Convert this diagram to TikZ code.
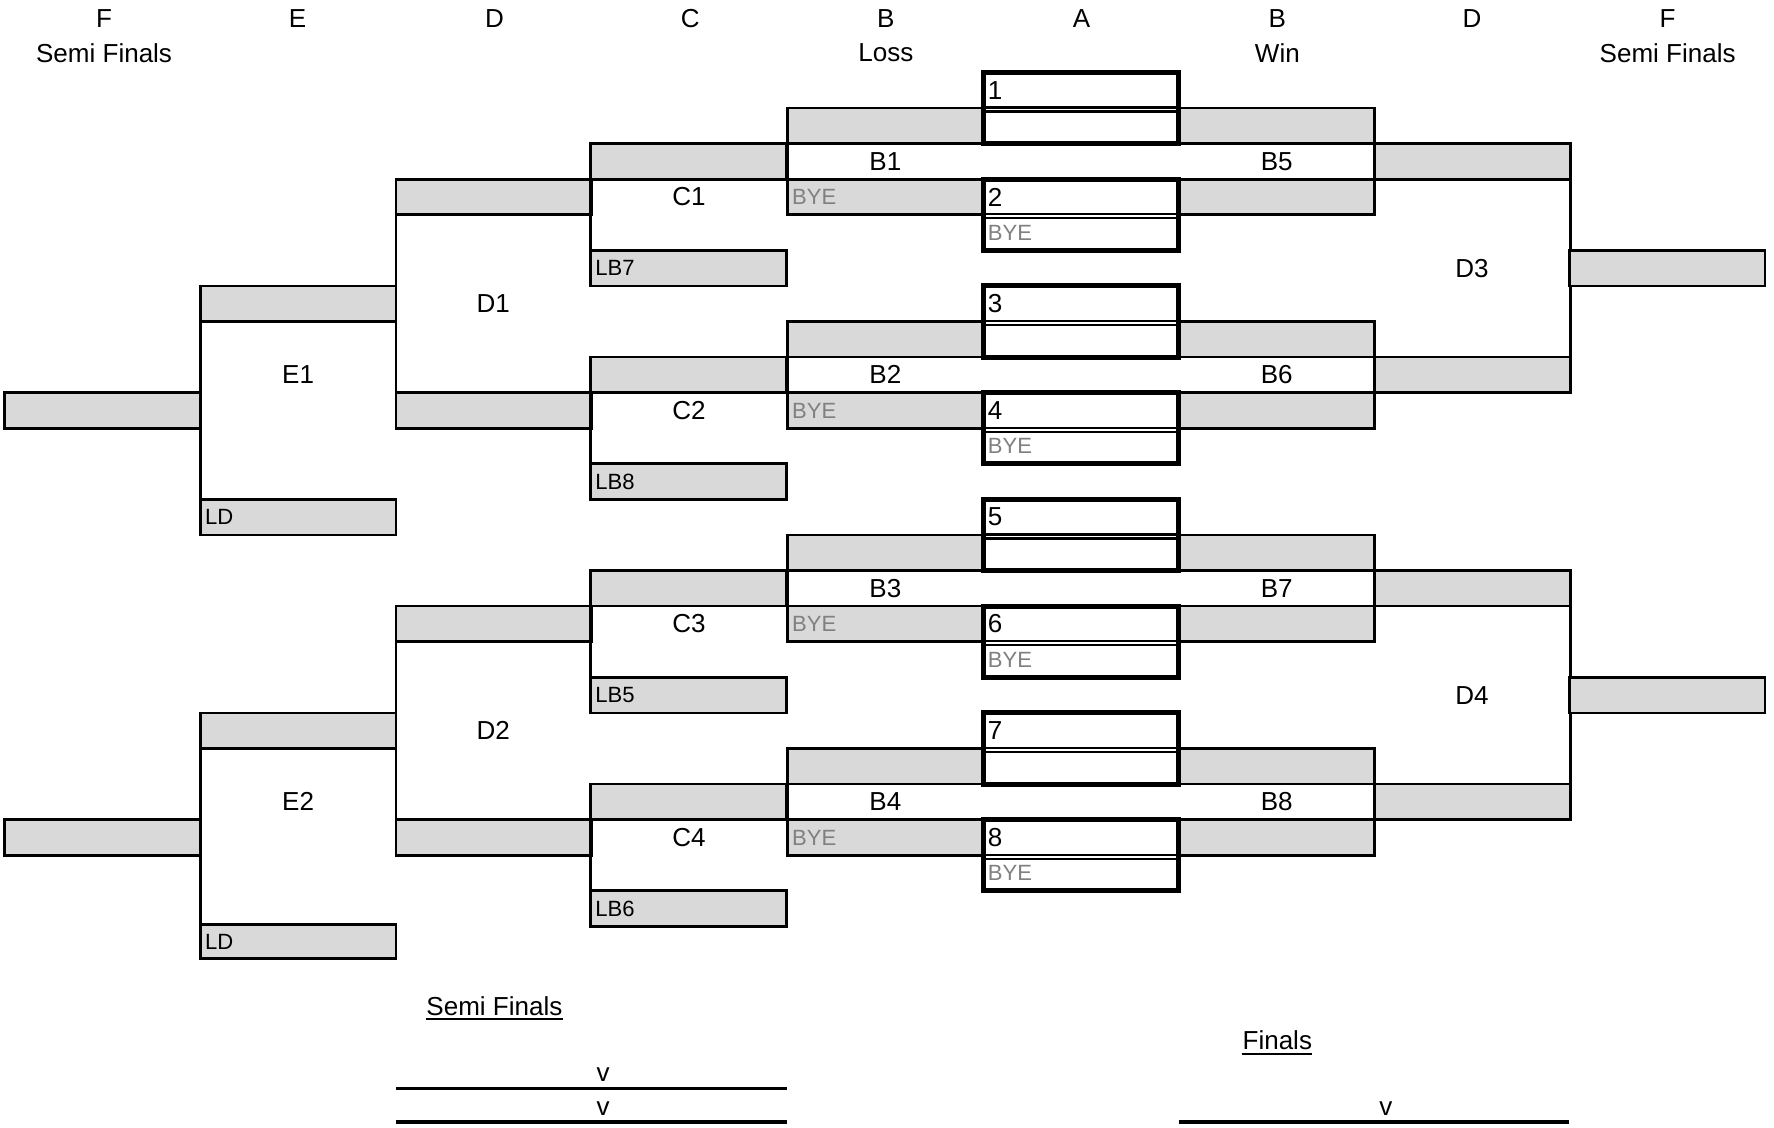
\documentclass[tikz,border=0pt]{standalone}
\usepackage{fontspec}
\setmainfont{Liberation Sans}
\definecolor{boxgray}{RGB}{217,217,217}
\definecolor{byegray}{RGB}{128,128,128}
\begin{document}
\begin{tikzpicture}[x=1pt,y=-31.45pt,
  gb/.style={draw=black,line width=2.4pt,fill=boxgray,minimum width=173pt,minimum height=31.45pt,inner sep=0pt,outer sep=0pt,anchor=north west},
  ab/.style={draw=black,line width=4.5pt,fill=white,minimum width=173pt,minimum height=62.9pt,inner sep=0pt,outer sep=0pt,anchor=north west},
  big/.style={font=\fontsize{23}{27}\selectfont,inner sep=0pt},
  sm/.style={font=\fontsize{19.5}{23}\selectfont,inner sep=0pt,anchor=west},
  bye/.style={sm,text=byegray},
  wire/.style={line width=2.4pt},
  rule/.style={line width=3.2pt}
]
\useasboundingbox (0,-2.035) rectangle (1568,29.666);
% headers
\foreach \x/\t [count=\i] in {92/F,263/E,437/D,610/C,783/B,956/A,1129/B,1301/D,1474/F}
  \node[big] (hd\i) at (\x,-1.526) {\t};
\node[big] (sh1) at (92,-0.541) {Semi Finals};
\node[big] (sh2) at (783,-0.541) {Loss};
\node[big] (sh3) at (1129,-0.541) {Win};
\node[big] (sh4) at (1474,-0.541) {Semi Finals};
% left halves: F, E, D
\foreach \h in {1,2}{
  \pgfmathtruncatemacro\o{12*(\h-1)}
  \node[gb] (fL\h) at (4,9+\o) {};
  \node[gb] (eT\h) at (177,6+\o) {};
  \ifnum\h=1
    \node[gb] (eL\h) at (177,12) {};
  \else
    \node[gb,minimum height=30pt] (eL\h) at (177,23.95) {};
  \fi
  \node[sm] (eLt\h) at ([xshift=4pt]eL\h.west) {LD};
  \draw[wire] (eT\h.north west) -- (eL\h.south west);
  \node[big] (eLab\h) at (263.5,8.5+\o) {E\h};
  \node[gb] (dT\h) at (350,3+\o) {};
  \node[gb] (dB\h) at (350,9+\o) {};
  \draw[wire] (dT\h.north west) -- (dB\h.south west);
  \node[big] (dLab\h) at (436,6.5+\o) {D\h};
}
% C brackets
\foreach \c/\lb in {1/7,2/8,3/5,4/6}{
  \pgfmathtruncatemacro\t{2+6*(\c-1)}
  \node[gb] (cT\c) at (522,\t) {};
  \node[gb] (cL\c) at (522,\t+3) {};
  \node[sm] (cLt\c) at ([xshift=4pt]cL\c.west) {LB\lb};
  \draw[wire] (cT\c.north west) -- (cL\c.south west);
  \node[big] (cLab\c) at (609,\t+1.5) {C\c};
}
% B loss
\foreach \b in {1,...,4}{
  \pgfmathtruncatemacro\t{1+6*(\b-1)}
  \node[gb] (blT\b) at (696,\t) {};
  \node[gb] (blB\b) at (696,\t+2) {};
  \node[bye] (blBt\b) at ([xshift=4pt]blB\b.west) {BYE};
  \draw[wire] (blT\b.north west) -- (blB\b.south west);
  \node[big] (blLab\b) at (782.5,\t+1.5) {B\b};
}
% B win
\foreach \b in {5,...,8}{
  \pgfmathtruncatemacro\t{1+6*(\b-5)}
  \node[gb] (bwT\b) at (1042,\t) {};
  \node[gb] (bwB\b) at (1042,\t+2) {};
  \draw[wire] (bwT\b.north east) -- (bwB\b.south east);
  \node[big] (bwLab\b) at (1128.5,\t+1.5) {B\b};
}
% D right and F right
\foreach \d in {3,4}{
  \pgfmathtruncatemacro\t{2+12*(\d-3)}
  \node[gb] (drT\d) at (1215,\t) {};
  \node[gb] (drB\d) at (1215,\t+6) {};
  \draw[wire] (drT\d.north east) -- (drB\d.south east);
  \node[big] (drLab\d) at (1301,\t+3.5) {D\d};
  \node[gb] (fR\d) at (1387,\t+3) {};
}
% A boxes
\foreach \n in {1,...,8}{
  \pgfmathtruncatemacro\t{3*(\n-1)}
  \node[ab] (a\n) at (869,\t) {};
  \draw[line width=2pt] ([yshift=-31pt]a\n.north west) -- ([yshift=-31pt]a\n.north east);
  \draw[line width=2pt] ([yshift=-34.5pt]a\n.north west) -- ([yshift=-34.5pt]a\n.north east);
  \node[big,anchor=west] (an\n) at ([xshift=4pt,yshift=-15.7pt]a\n.north west) {\n};
}
\foreach \n in {2,4,6,8}
  \node[bye] (aby\n) at ([xshift=4pt,yshift=-47.2pt]a\n.north west) {BYE};
% bottom section
\node[big] (sfB) at (437,26.232) {Semi Finals};
\draw[line width=1.5pt] ([yshift=-3pt]sfB.south west) -- ([yshift=-3pt]sfB.south east);
\node[big] (fin) at (1129,27.21) {Finals};
\draw[line width=1.5pt] ([yshift=-3pt]fin.south west) -- ([yshift=-3pt]fin.south east);
\node[big] (v1) at (533,28.17) {v};
\node[big] (v2) at (533,29.11) {v};
\node[big] (v3) at (1225,29.11) {v};
\coordinate (s1a) at (350,28.553); \coordinate (s1b) at (696,28.553);
\coordinate (s2a) at (350,29.49);  \coordinate (s2b) at (696,29.49);
\coordinate (s3a) at (1042,29.49); \coordinate (s3b) at (1387,29.49);
\draw[rule] (s1a) -- (s1b);
\draw[rule] (s2a) -- (s2b);
\draw[rule] (s3a) -- (s3b);
\end{tikzpicture}
\end{document}
